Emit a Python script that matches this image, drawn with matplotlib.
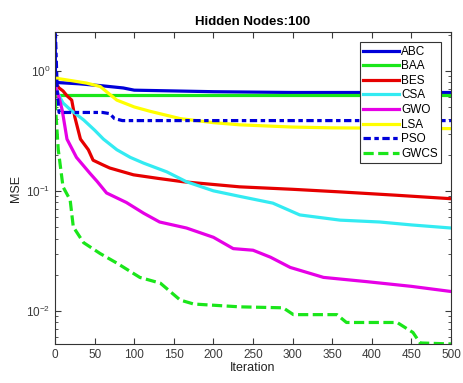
import numpy as np
import matplotlib
matplotlib.use("Agg")
import matplotlib.pyplot as plt

plt.rcParams['font.family'] = ['Liberation Sans', 'DejaVu Sans']

# convergence curves (iteration, MSE)
abc_it = [0, 0.5, 1, 30, 60, 86, 100, 150, 200, 300, 500]
abc_mse = [2.5, 0.9, 0.80, 0.78, 0.75, 0.72, 0.69, 0.68, 0.67, 0.66, 0.66]

baa_it = [0, 500]
baa_mse = [0.635, 0.635]

bes_it = [0, 5, 10, 15, 21, 25, 32, 42, 48, 60, 69, 99, 130, 162, 200, 233, 300, 360, 430, 500]
bes_mse = [0.80, 0.72, 0.68, 0.62, 0.57, 0.41, 0.27, 0.22, 0.18, 0.165, 0.155, 0.136, 0.127,
           0.119, 0.113, 0.108, 0.103, 0.098, 0.092, 0.086]

csa_it = [0, 5, 10, 20, 36, 50, 61, 78, 95, 112, 141, 166, 200, 233, 275, 309, 360, 410, 450, 500]
csa_mse = [0.75, 0.62, 0.54, 0.47, 0.39, 0.32, 0.27, 0.22, 0.19, 0.17, 0.144, 0.119, 0.10,
           0.09, 0.079, 0.063, 0.057, 0.055, 0.052, 0.049]

gwo_it = [0, 5, 9, 15, 27, 44, 53, 65, 90, 112, 132, 166, 200, 225, 250, 272, 297, 339, 394, 450, 500]
gwo_mse = [0.75, 0.6, 0.47, 0.27, 0.19, 0.14, 0.12, 0.096, 0.08, 0.065, 0.055, 0.049, 0.041,
           0.033, 0.032, 0.028, 0.023, 0.019, 0.0175, 0.016, 0.0145]

lsa_it = [0, 20, 40, 57, 78, 100, 120, 158, 200, 233, 300, 350, 500]
lsa_mse = [0.87, 0.83, 0.79, 0.74, 0.57, 0.50, 0.46, 0.40, 0.37, 0.355, 0.34, 0.335, 0.33]

pso_it = [0, 3, 5, 60, 69, 75, 85, 500]
pso_mse = [2.5, 0.6, 0.45, 0.45, 0.44, 0.40, 0.385, 0.385]

gwcs_it = [0, 2, 4, 10, 19, 23, 36, 57, 78, 107, 133, 158, 175, 233, 288, 301, 356, 368,
           432, 452, 461, 500]
gwcs_mse = [0.57, 0.35, 0.22, 0.108, 0.084, 0.05, 0.037, 0.030, 0.025, 0.019, 0.017, 0.0123,
            0.0114, 0.0108, 0.0106, 0.0093, 0.0093, 0.008, 0.008, 0.0066, 0.0054, 0.0053]

fig = plt.figure(figsize=(4.63, 3.83), dpi=100)
ax = fig.add_axes([0.119, 0.102, 0.855, 0.814])

lw = 2.3
ax.semilogy(abc_it, abc_mse, color=(0, 0, 0.85), lw=lw, label='ABC')
ax.semilogy(baa_it, baa_mse, color=(0.1, 0.9, 0.1), lw=lw, label='BAA')
ax.semilogy(bes_it, bes_mse, color=(0.9, 0, 0), lw=lw, label='BES')
ax.semilogy(csa_it, csa_mse, color=(0.2, 0.92, 0.95), lw=lw, label='CSA')
ax.semilogy(gwo_it, gwo_mse, color=(0.9, 0, 0.9), lw=lw, label='GWO')
ax.semilogy(lsa_it, lsa_mse, color=(1, 1, 0), lw=lw, label='LSA')
ax.semilogy(pso_it, pso_mse, color=(0, 0, 0.85), lw=lw, ls=(0, (2.3, 1.1, 1.4, 1.1)), label='PSO')
ax.semilogy(gwcs_it, gwcs_mse, color=(0.1, 0.9, 0.1), lw=lw, ls=(0, (3.2, 1.4)), label='GWCS')

ax.set_xlim(0, 500)
ax.set_ylim(0.0053, 2.1)
ax.set_xticks(np.arange(0, 501, 50))
ax.tick_params(which='both', direction='in', top=True, right=True, labelsize=8.5,
               colors='#3a3a3a')
ax.tick_params(which='major', length=4)
ax.tick_params(which='minor', length=2)
for s in ax.spines.values():
    s.set_color('#333333')
    s.set_linewidth(0.8)

ax.set_xlabel('Iteration', fontsize=9, labelpad=1, color='#222222')
ax.set_ylabel('MSE', fontsize=9, labelpad=3, color='#222222')
ax.set_title('Hidden Nodes:100', fontsize=9.5, fontweight='bold', pad=5)

leg = ax.legend(loc='upper right', bbox_to_anchor=(0.975, 0.968), borderaxespad=0,
                fontsize=8.5, handlelength=3.0, handletextpad=0.2, labelspacing=0.22,
                borderpad=0.3, fancybox=False, framealpha=1)
leg.get_frame().set_edgecolor('#333333')
leg.get_frame().set_linewidth(0.8)

fig.savefig('out.png', dpi=100)
